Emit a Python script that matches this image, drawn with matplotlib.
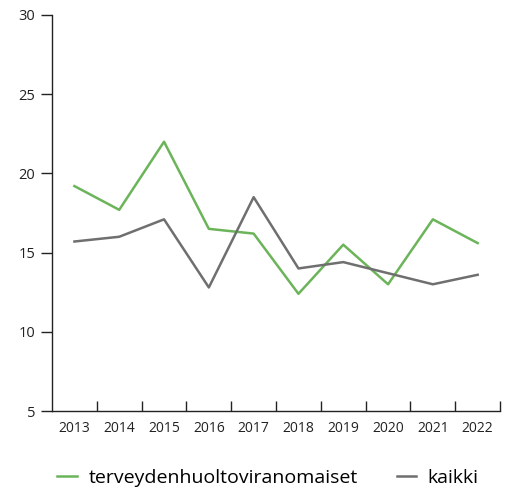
import numpy as np
import matplotlib.pyplot as plt

years = ["2013", "2014", "2015", "2016", "2017", "2018", "2019", "2020", "2021", "2022"]
terveys = [19.2, 17.7, 22.0, 16.5, 16.2, 12.4, 15.5, 13.0, 17.1, 15.6]
kaikki = [15.7, 16.0, 17.1, 12.8, 18.5, 14.0, 14.4, 13.7, 13.0, 13.6]

plt.rcParams['font.family'] = ['Open Sans', 'DejaVu Sans']

fig = plt.figure(figsize=(5.06, 4.90), dpi=100)
ax = fig.add_axes([0.1028, 0.1612, 0.8855, 0.8082])

x = np.arange(len(years))
ax.plot(x, terveys, color="#6cb45a", lw=1.8, label="terveydenhuoltoviranomaiset")
ax.plot(x, kaikki, color="#6f6f6f", lw=1.8, label="kaikki")

ax.set_xlim(-0.5, len(years) - 0.5)
ax.set_ylim(5, 30)
ax.set_yticks([5, 10, 15, 20, 25, 30])
ax.set_xticks(x)
ax.set_xticklabels(years)
ax.set_xticks(np.arange(0.5, len(years)), minor=True)
ax.tick_params(axis="x", which="major", length=0, labelsize=10, pad=7, colors="#222222")
ax.tick_params(axis="x", which="minor", length=7.5, width=1, direction="in", color="#222222")
ax.tick_params(axis="y", length=8, width=1, labelsize=10.5, pad=4, colors="#222222")

for s in ["top", "right"]:
    ax.spines[s].set_visible(False)
for s in ["left", "bottom"]:
    ax.spines[s].set_color("#222222")
    ax.spines[s].set_linewidth(1)

fig.legend(loc="center", bbox_to_anchor=(0.53, 0.024), ncol=2, frameon=False,
           fontsize=14, handlelength=1.0, columnspacing=2.0, handletextpad=0.6,
           borderaxespad=0)

fig.savefig("out.png", dpi=100)
